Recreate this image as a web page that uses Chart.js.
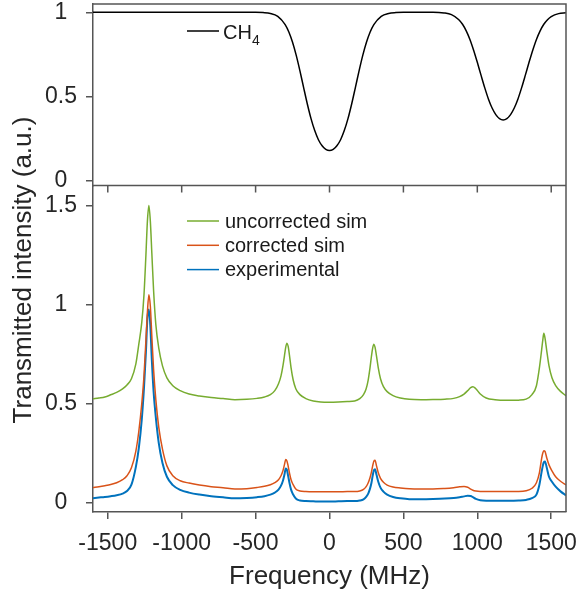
<!DOCTYPE html>
<html>
<head>
<meta charset="utf-8">
<script src="https://cdn.jsdelivr.net/npm/chart.js"></script>
<style>
  html, body { margin: 0; padding: 0; background: #fff; }
</style>
</head>
<body>
<canvas id="grafica" width="578" height="597"></canvas>
<script>
// ticks
const xTicks = [-1500, -1000, -500, 0, 500, 1000, 1500];
const yTicksTop = [0, 0.5, 1];
const yTicksBottom = [0, 0.5, 1, 1.5];

// panel superior: CH4
const freqTop = [-1600, -1400, -1200, -1000, -800, -600, -500, -450, -400, -350, -300,
  -275, -250, -225, -200, -175, -150, -125, -100, -75, -50, -25, 0,
  25, 50, 75, 100, 125, 150, 175, 200, 225, 250, 275, 300,
  350, 400, 450, 500, 600, 700, 775, 825, 875,
  900, 925, 950, 975, 1000, 1025, 1050, 1075, 1100, 1125, 1150, 1175, 1200,
  1225, 1250, 1275, 1300, 1325, 1350, 1375, 1400, 1425, 1450, 1475, 1500, 1550, 1600];
const ch4 = [1, 1, 1, 1, 1, 1, 1.000, 0.998, 0.993, 0.976, 0.927,
  0.883, 0.822, 0.744, 0.652, 0.553, 0.456, 0.369, 0.298, 0.244, 0.208, 0.187, 0.180,
  0.187, 0.208, 0.244, 0.298, 0.369, 0.456, 0.553, 0.652, 0.744, 0.822, 0.883, 0.927,
  0.976, 0.993, 0.998, 1.000, 1, 1, 0.996, 0.986, 0.956,
  0.929, 0.890, 0.839, 0.775, 0.703, 0.627, 0.553, 0.486, 0.432, 0.393, 0.369, 0.361, 0.369,
  0.393, 0.432, 0.486, 0.553, 0.627, 0.703, 0.775, 0.839, 0.890, 0.929, 0.956, 0.974, 0.992, 0.997];

// panel inferior
const freqBottom = [-1600, -1560, -1520, -1480, -1440, -1400, -1370, -1340, -1310, -1290, -1270, -1255, -1242, -1232,
  -1222, -1212, -1202, -1190, -1175, -1155, -1130, -1100, -1060, -1010, -950, -880, -800, -720,
  -640, -560, -490, -440, -400, -370, -345, -328, -315, -305, -296, -288, -280, -271, -260, -246, -228, -200, -160, -110,
  -60, 0, 60, 120,
  170, 205, 230, 248, 262, 274, 284, 292, 300, 308, 318, 330, 345, 365, 390, 430, 480, 540,
  620, 700, 780, 840, 880, 910, 935, 955, 970, 990, 1020, 1060,
  1120, 1200, 1280, 1330, 1370, 1400, 1420, 1435, 1443, 1450, 1458, 1470, 1485, 1505, 1530, 1565, 1600];
const uncorrectedSim = [0.524, 0.528, 0.533, 0.544, 0.556, 0.574, 0.594, 0.625, 0.700, 0.800, 0.910, 1.050, 1.250, 1.420,
  1.500, 1.420, 1.260, 1.070, 0.900, 0.780, 0.690, 0.630, 0.590, 0.565, 0.548, 0.538, 0.530, 0.525,
  0.519, 0.521, 0.526, 0.533, 0.545, 0.565, 0.600, 0.640, 0.690, 0.740, 0.785, 0.805, 0.790, 0.745, 0.680, 0.620, 0.575, 0.545, 0.525, 0.513,
  0.508, 0.507, 0.508, 0.510,
  0.513, 0.525, 0.545, 0.575, 0.620, 0.680, 0.740, 0.780, 0.800, 0.785, 0.740, 0.680, 0.625, 0.585, 0.560, 0.540, 0.528, 0.521,
  0.519, 0.520, 0.522, 0.526, 0.535, 0.548, 0.565, 0.580, 0.585, 0.575, 0.548, 0.528,
  0.519, 0.516, 0.517, 0.522, 0.545, 0.590, 0.680, 0.770, 0.820, 0.855, 0.830, 0.765, 0.690, 0.630, 0.590, 0.560, 0.539];
const correctedSim = [0.076, 0.080, 0.085, 0.091, 0.100, 0.115, 0.135, 0.175, 0.260, 0.360, 0.500, 0.640, 0.820, 0.960,
  1.050, 0.990, 0.840, 0.670, 0.520, 0.380, 0.270, 0.185, 0.135, 0.110, 0.098, 0.088, 0.080, 0.075,
  0.068, 0.070, 0.076, 0.082, 0.090, 0.100, 0.115, 0.135, 0.160, 0.190, 0.217, 0.210, 0.185, 0.150, 0.115, 0.090, 0.068, 0.058, 0.055, 0.054,
  0.054, 0.054, 0.054, 0.055,
  0.055, 0.058, 0.066, 0.080, 0.100, 0.125, 0.155, 0.185, 0.208, 0.213, 0.185, 0.150, 0.122, 0.102, 0.088, 0.078, 0.073, 0.069,
  0.068, 0.068, 0.071, 0.075, 0.079, 0.081, 0.077, 0.068, 0.062, 0.058, 0.056, 0.056,
  0.056, 0.056, 0.056, 0.059, 0.072, 0.100, 0.150, 0.222, 0.250, 0.262, 0.258, 0.225, 0.190, 0.160, 0.130, 0.106, 0.089];
const experimental = [0.022, 0.025, 0.028, 0.032, 0.037, 0.045, 0.058, 0.090, 0.180, 0.275, 0.420, 0.580, 0.760, 0.930,
  0.975, 0.890, 0.720, 0.560, 0.430, 0.300, 0.200, 0.130, 0.088, 0.064, 0.050, 0.040, 0.032, 0.026,
  0.021, 0.023, 0.027, 0.032, 0.040, 0.050, 0.065, 0.085, 0.110, 0.140, 0.172, 0.165, 0.135, 0.100, 0.065, 0.040, 0.020, 0.010, 0.007, 0.006,
  0.005, 0.005, 0.006, 0.007,
  0.007, 0.010, 0.016, 0.028, 0.045, 0.070, 0.100, 0.135, 0.162, 0.168, 0.140, 0.105, 0.075, 0.055, 0.040, 0.028, 0.021, 0.017,
  0.017, 0.018, 0.020, 0.023, 0.027, 0.031, 0.034, 0.033, 0.027, 0.018, 0.011, 0.009,
  0.009, 0.009, 0.010, 0.013, 0.022, 0.040, 0.090, 0.155, 0.185, 0.203, 0.207, 0.175, 0.130, 0.105, 0.080, 0.055, 0.036];

const fuente = "'Liberation Sans', Arial, sans-serif";
const gris = '#555555';
const texto = '#262626';

function puntos(xs, ys) {
    return xs.map((x, i) => ({ x: x, y: ys[i] }));
}

function serie(etiqueta, xs, ys, color, eje, ancho) {
    return {
        label: etiqueta,
        data: puntos(xs, ys),
        borderColor: color,
        backgroundColor: color,
        borderWidth: ancho,
        pointRadius: 0,
        cubicInterpolationMode: 'monotone',
        yAxisID: eje
    };
}

// sin relleno extra para etiquetas que sobresalen
function ajustar(s, ancho, alto) {
    if (ancho) s.width = ancho;
    if (alto) s.height = alto;
    s.paddingLeft = 0; s.paddingRight = 0;
    s.paddingTop = 0; s.paddingBottom = 0;
}

// marco de los paneles, ticks interiores, leyendas y titulo del eje y
const marco = {
    id: 'marco',
    afterDraw(chart) {
        const { ctx, chartArea: a, scales } = chart;
        const sep = scales.yTop.bottom;
        ctx.save();
        ctx.strokeStyle = gris;
        ctx.lineWidth = 1.5;
        ctx.beginPath();
        ctx.moveTo(a.left, a.top); ctx.lineTo(a.right, a.top); ctx.lineTo(a.right, a.bottom);
        ctx.moveTo(a.left, sep); ctx.lineTo(a.right, sep);
        xTicks.forEach(v => {
            const px = scales.x.getPixelForValue(v);
            ctx.moveTo(px, sep); ctx.lineTo(px, sep + 7);
        });
        ctx.stroke();

        // leyendas
        const ds = chart.data.datasets;
        ctx.lineWidth = 1.5;
        ctx.fillStyle = '#1a1a1a';
        ctx.textBaseline = 'middle';
        ctx.textAlign = 'left';
        ctx.font = '20px ' + fuente;
        ctx.strokeStyle = ds[0].borderColor;
        ctx.beginPath(); ctx.moveTo(187, 31); ctx.lineTo(219, 31); ctx.stroke();
        ctx.fillText('CH', 223, 33);
        const w = ctx.measureText('CH').width;
        ctx.font = '14px ' + fuente;
        ctx.fillText('4', 223 + w, 41);

        ctx.font = '20px ' + fuente;
        [1, 2, 3].forEach((k, i) => {
            const y = 221 + i * 24.3;
            ctx.strokeStyle = ds[k].borderColor;
            ctx.beginPath(); ctx.moveTo(187, y); ctx.lineTo(219, y); ctx.stroke();
            ctx.fillText(ds[k].label, 225, y + 1);
        });

        // titulo vertical
        ctx.translate(24, 270);
        ctx.rotate(-Math.PI / 2);
        ctx.textAlign = 'center';
        ctx.fillStyle = texto;
        ctx.font = '26px ' + fuente;
        ctx.fillText('Transmitted intensity (a.u.)', 0, 0);
        ctx.restore();
    }
};

const ejeY = (min, max, valores) => ({
    type: 'linear',
    position: 'left',
    stack: 'paneles',
    min: min,
    max: max,
    afterBuildTicks: s => { s.ticks = valores.map(v => ({ value: v })); },
    afterFit: s => ajustar(s, 48, 0),
    grid: { drawOnChartArea: false, drawTicks: true, tickLength: 7, color: gris, lineWidth: 1.5 },
    border: { color: gris, width: 1.5 },
    ticks: { crossAlign: 'center', padding: 9, color: texto, font: { size: 23, family: fuente },
             callback: v => String(v) }
});

const yBottom = ejeY(-0.048, 1.602, yTicksBottom);
yBottom.stackWeight = 326.8;
const yTop = ejeY(-0.027, 1.049, yTicksTop);
yTop.stackWeight = 181.5;

new Chart(document.getElementById('grafica'), {
    type: 'line',
    data: {
        datasets: [
            serie('CH4', freqTop, ch4, '#000000', 'yTop', 1.5),
            serie('uncorrected sim', freqBottom, uncorrectedSim, '#77ac30', 'y', 1.5),
            serie('corrected sim', freqBottom, correctedSim, '#d95319', 'y', 1.5),
            serie('experimental', freqBottom, experimental, '#0072bd', 'y', 2)
        ]
    },
    options: {
        responsive: false,
        animation: false,
        layout: { padding: { left: 45, right: 12, top: 4, bottom: 0 } },
        plugins: { legend: { display: false }, tooltip: { enabled: false } },
        scales: {
            x: {
                type: 'linear',
                min: -1600,
                max: 1600,
                afterBuildTicks: s => { s.ticks = xTicks.map(v => ({ value: v })); },
                afterFit: s => ajustar(s, 0, 85),
                grid: { drawOnChartArea: false, drawTicks: true, tickLength: 7, color: gris, lineWidth: 1.5 },
                border: { color: gris, width: 1.5 },
                ticks: { padding: 11, maxRotation: 0, color: texto, font: { size: 23, family: fuente },
                         callback: v => String(v) },
                title: { display: true, text: 'Frequency (MHz)', color: texto, padding: { top: 0, bottom: 5 },
                         font: { size: 26, family: fuente } }
            },
            y: yBottom,
            yTop: yTop
        }
    },
    plugins: [marco]
});
</script>
</body>
</html>
